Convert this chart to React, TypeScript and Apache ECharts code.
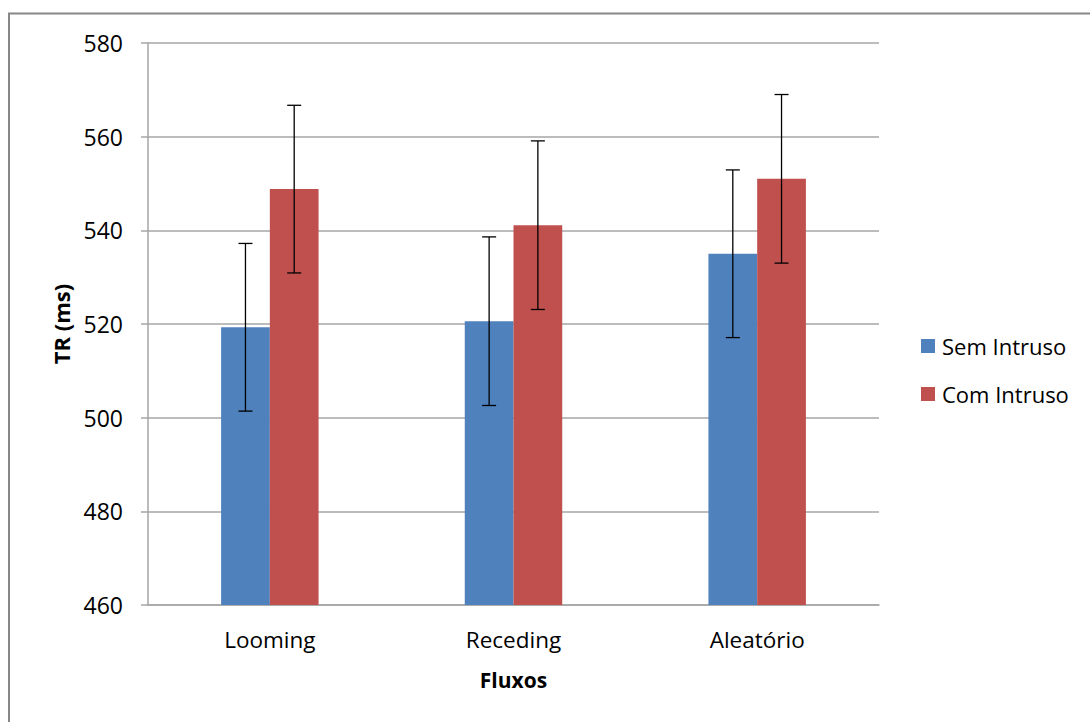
import React, { useEffect, useRef } from "react";
import * as echarts from "echarts";

const categories = ["Looming", "Receding", "Aleatório"];
const semIntruso = [519.3, 520.6, 535.0];
const comIntruso = [548.8, 541.1, 551.0];
const semErr = [17.9, 18.0, 17.9];
const comErr = [17.9, 18.0, 18.0];
const seriesNames = ["Sem Intruso", "Com Intruso"];
const yTicks = { min: 460, max: 580, interval: 20 };

const FONT = "'Open Sans', sans-serif";

function errorSeries(values: number[], errs: number[], side: number) {
  return {
    type: "custom",
    z: 5,
    silent: true,
    data: values.map((v, i) => [i, v, errs[i]]),
    encode: { x: 0, y: 1 },
    renderItem: (params: any, api: any) => {
      const idx = api.value(0);
      const val = api.value(1);
      const err = api.value(2);
      const band = api.size([1, 0])[0];
      const off = side * band * 0.1;
      const top = api.coord([idx, val + err]);
      const bot = api.coord([idx, val - err]);
      const x = top[0] + off;
      const cap = 7;
      const style = { stroke: "#000", lineWidth: 1.3 };
      return {
        type: "group",
        children: [
          { type: "line", shape: { x1: x, y1: top[1], x2: x, y2: bot[1] }, style },
          { type: "line", shape: { x1: x - cap, y1: top[1], x2: x + cap, y2: top[1] }, style },
          { type: "line", shape: { x1: x - cap, y1: bot[1], x2: x + cap, y2: bot[1] }, style },
        ],
      };
    },
  };
}

export default function App() {
  const ref = useRef<HTMLDivElement>(null);
  useEffect(() => {
    if (!ref.current) return;
    const chart = echarts.init(ref.current, null, { renderer: "svg" });
    chart.setOption({
      animation: false,
      backgroundColor: "#fff",
      textStyle: { fontFamily: FONT },
      graphic: [
        {
          type: "rect",
          shape: { x: 9, y: 13.5, width: 1200, height: 800 },
          style: { fill: "none", stroke: "#878787", lineWidth: 2 },
          z: 0,
        },
      ],
      grid: { left: 148, top: 43, width: 731, height: 562, containLabel: false },
      legend: {
        orient: "vertical",
        left: 916,
        top: 329,
        itemWidth: 14,
        itemHeight: 14,
        itemGap: 24,
        icon: "rect",
        data: seriesNames,
        textStyle: { fontFamily: FONT, fontSize: 22, color: "#000", lineHeight: 24, padding: [0, 0, 0, 2] },
      },
      xAxis: {
        type: "category",
        data: categories,
        name: "Fluxos",
        nameLocation: "middle",
        nameGap: 64,
        nameTextStyle: { fontFamily: FONT, fontSize: 21, fontWeight: "bold", color: "#000" },
        axisLine: { show: true, lineStyle: { color: "#A6A6A6", width: 1.5 } },
        axisTick: { show: false },
        axisLabel: { fontFamily: FONT, fontSize: 22.5, color: "#000", margin: 23 },
        splitLine: { show: false },
      },
      yAxis: {
        type: "value",
        min: yTicks.min,
        max: yTicks.max,
        interval: yTicks.interval,
        name: "TR (ms)",
        nameLocation: "middle",
        nameGap: 76,
        nameRotate: 90,
        nameTextStyle: { fontFamily: FONT, fontSize: 22, fontWeight: "bold", color: "#000" },
        axisLine: { show: true, lineStyle: { color: "#A6A6A6", width: 1.5 } },
        axisTick: { show: true, length: 7, inside: false, lineStyle: { color: "#A6A6A6", width: 1.5 } },
        axisLabel: { fontFamily: FONT, fontSize: 23, color: "#000", margin: 25 },
        splitLine: { show: true, lineStyle: { color: "#A6A6A6", width: 1.5 } },
      },
      series: [
        {
          name: seriesNames[0],
          type: "bar",
          data: semIntruso,
          barWidth: "20%",
          barGap: "0%",
          itemStyle: { color: "#4F81BD" },
        },
        {
          name: seriesNames[1],
          type: "bar",
          data: comIntruso,
          barWidth: "20%",
          barGap: "0%",
          itemStyle: { color: "#C0504D" },
        },
        errorSeries(semIntruso, semErr, -1),
        errorSeries(comIntruso, comErr, 1),
      ],
    });
    return () => chart.dispose();
  }, []);
  return (
    <div
      ref={ref}
      style={{ position: "absolute", left: 0, top: 0, width: 1090, height: 722 }}
    />
  );
}
